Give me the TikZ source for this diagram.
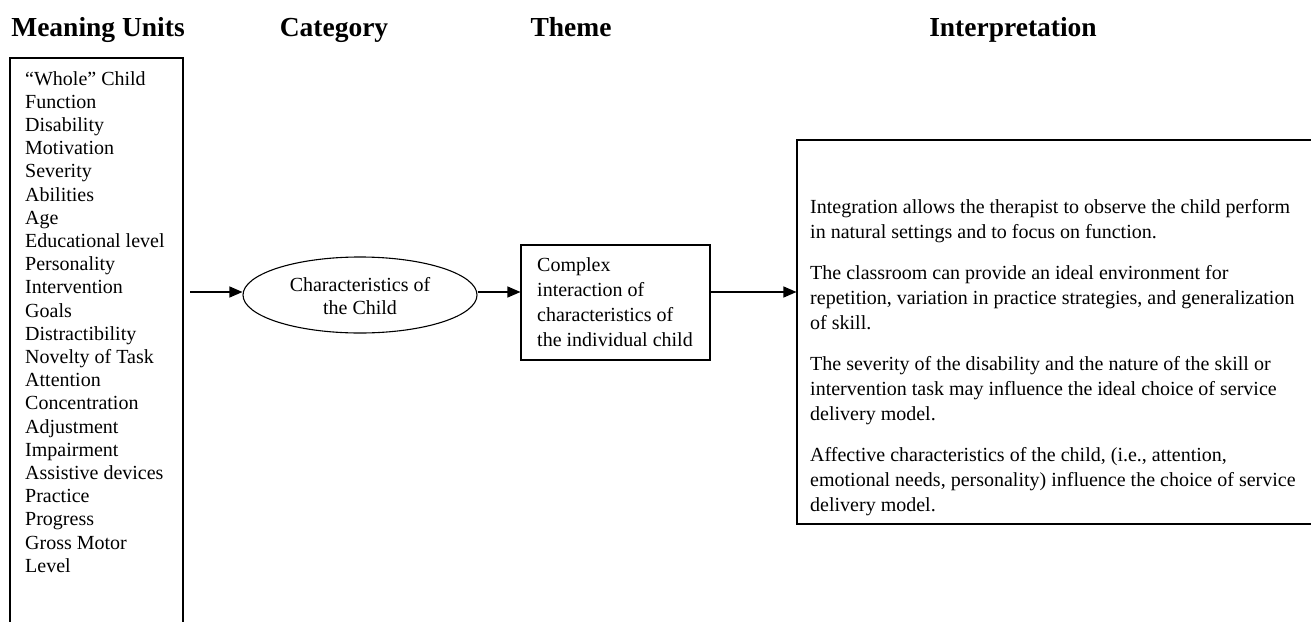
\documentclass[tikz,border=0pt]{standalone}
\usepackage{fontspec}
\setmainfont{Liberation Serif}
\usetikzlibrary{shapes.geometric,arrows.meta}
\begin{document}
\begin{tikzpicture}[x=1pt,y=-1pt,
  head/.style={font=\fontsize{27.5}{30}\selectfont\bfseries, anchor=base, inner sep=0pt},
  body/.style={font=\fontsize{20}{24}\selectfont, anchor=base west, inner sep=0pt},
  frame/.style={draw, line width=1.1pt},
  arr/.style={-{Triangle[length=13pt,width=11pt]}, line width=1.1pt}]
\useasboundingbox (0,0) rectangle (1311,621);
\fill[white] (0,0) rectangle (1311,621);

% headers
\node[head] (h1) at (98,36) {Meaning Units};
\node[head] (h2) at (334,36) {Category};
\node[head] (h3) at (571,36) {Theme};
\node[head] (h4) at (1013,36) {Interpretation};

% meaning units box (open at the bottom, cut by the page)
\draw[frame] (10,630) -- (10,58) -- (183,58) -- (183,630);
\foreach \t [count=\i from 0] in {{“Whole” Child},Function,Disability,Motivation,Severity,Abilities,Age,{Educational level},Personality,Intervention,Goals,Distractibility,{Novelty of Task},Attention,Concentration,Adjustment,Impairment,{Assistive devices},Practice,Progress,{Gross Motor},Level}
  \node[body] (m\i) at (25,{85+23.2*\i}) {\t};

% category ellipse
\node[ellipse, frame, minimum width=234, minimum height=76, inner sep=0pt] (cat) at (360,295) {};
\node[font=\fontsize{20}{23.5}\selectfont, align=center, inner sep=0pt] (catt) at (360,296) {Characteristics of\\the Child};

% theme box
\node[frame, minimum width=189, minimum height=115, inner sep=0pt] (th) at (615.5,302.5) {};
\node[body] (t1) at (537,271) {Complex};
\node[body] (t2) at (537,296) {interaction of};
\node[body] (t3) at (537,321) {characteristics of};
\node[body] (t4) at (537,346) {the individual child};

% interpretation box (right edge cut by the page)
\node[frame, minimum width=540, minimum height=384, inner sep=0pt] (in) at (1067,332) {};
\node[body] (i1) at (810,213) {Integration allows the therapist to observe the child perform};
\node[body] (i2) at (810,238) {in natural settings and to focus on function.};
\node[body] (i3) at (810,279) {The classroom can provide an ideal environment for};
\node[body] (i4) at (810,304) {repetition, variation in practice strategies, and generalization};
\node[body] (i5) at (810,329) {of skill.};
\node[body] (i6) at (810,370) {The severity of the disability and the nature of the skill or};
\node[body] (i7) at (810,395) {intervention task may influence the ideal choice of service};
\node[body] (i8) at (810,420) {delivery model.};
\node[body] (i9) at (810,461) {Affective characteristics of the child, (i.e., attention,};
\node[body] (i10) at (810,486) {emotional needs, personality) influence the choice of service};
\node[body] (i11) at (810,511) {delivery model.};

% connectors
\coordinate (a0) at (190,292);
\coordinate (lvl) at (0,292);
\draw[arr] (a0) -- (cat.west |- lvl);
\draw[arr] (cat.east |- lvl) -- (th.west |- lvl);
\draw[arr] (th.east |- lvl) -- (in.west |- lvl);
\end{tikzpicture}
\end{document}
